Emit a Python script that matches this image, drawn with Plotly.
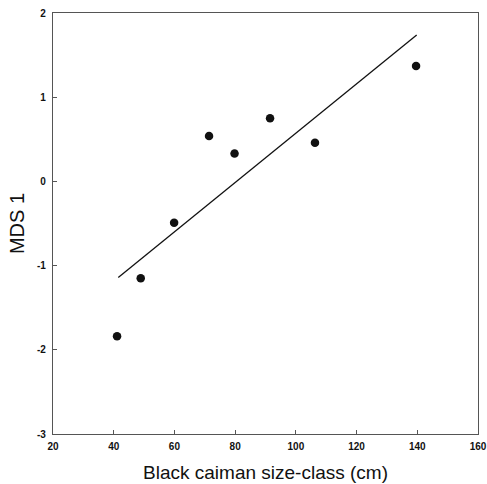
import plotly.graph_objects as go

size_class = [41.1, 48.9, 59.9, 71.4, 79.8, 91.5, 106.3, 139.6]
mds1 = [-1.84, -1.15, -0.49, 0.54, 0.33, 0.75, 0.46, 1.37]

fit_x = [41.5, 139.8]
fit_y = [-1.14, 1.74]

x_ticks = [20, 40, 60, 80, 100, 120, 140, 160]
y_ticks = [-3, -2, -1, 0, 1, 2]

fig = go.Figure()
fig.add_trace(go.Scatter(x=fit_x, y=fit_y, mode="lines",
                         line=dict(color="#111111", width=1.3), showlegend=False))
fig.add_trace(go.Scatter(x=size_class, y=mds1, mode="markers",
                         marker=dict(color="#111111", size=8.5), showlegend=False))

axis_common = dict(showgrid=False, zeroline=False, showline=True, mirror=True,
                   linecolor="#555555", linewidth=1.2, ticks="inside", ticklen=4,
                   tickcolor="#555555", tickwidth=1, automargin=False,
                   tickfont=dict(family="Liberation Sans", size=10, color="#111111",
                                 weight="bold"))

fig.update_xaxes(range=[20, 160], tickvals=x_ticks, ticktext=[str(v) for v in x_ticks],
                 ticklabelstandoff=3,
                 title=dict(text="Black caiman size-class (cm)",
                            font=dict(family="Liberation Sans", size=19, color="#111111"),
                            standoff=14),
                 **axis_common)
fig.update_yaxes(range=[-3, 2], tickvals=y_ticks, ticktext=[str(v) for v in y_ticks],
                 ticklabelstandoff=4,
                 title=dict(text="MDS 1",
                            font=dict(family="Liberation Sans", size=20, color="#111111"),
                            standoff=6),
                 **axis_common)

fig.update_layout(width=487, height=484, margin=dict(l=53, r=9, t=13, b=50),
                  paper_bgcolor="white", plot_bgcolor="white")

fig.write_html("out.html")
